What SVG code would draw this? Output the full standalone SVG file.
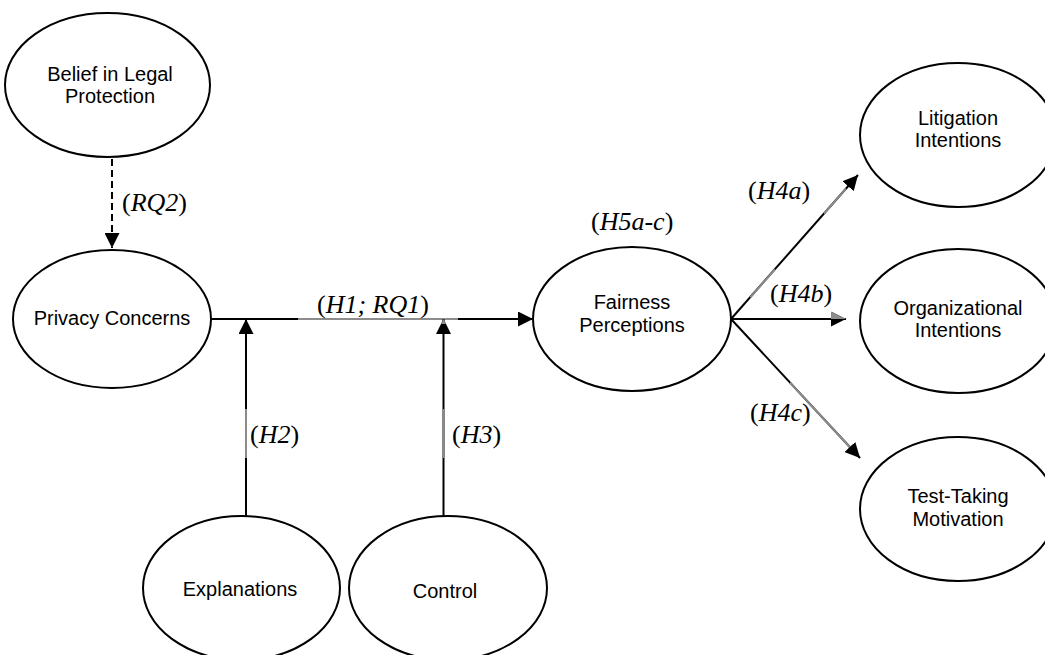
<svg xmlns="http://www.w3.org/2000/svg" width="1045" height="655" viewBox="0 0 1045 655">
  <style>
    .node ellipse { fill: #ffffff; stroke: #000000; stroke-width: 2; }
    .node text { font-family: "Liberation Sans", Arial, sans-serif; font-size: 20px; fill: #000000; text-anchor: middle; }
    .edge { stroke: #000000; stroke-width: 2; fill: none; }
    .dashed { stroke-dasharray: 7 4; }
    .grey { stroke: #8c8c8c; stroke-width: 2; fill: none; }
    .label { font-family: "Liberation Serif", "Times New Roman", serif; font-size: 26px; fill: #000000; }
    .label .it { font-style: italic; }
  </style>
  <defs>
    <marker id="arrow" viewBox="0 0 15 15" markerWidth="15" markerHeight="15" markerUnits="userSpaceOnUse" refX="15" refY="7.5" orient="auto">
      <path d="M0,0 L15,7.5 L0,15 Z" fill="#000000"/>
    </marker>
  </defs>

  <rect width="1045" height="655" fill="#ffffff"/>

  <!-- connectors -->
  <g id="connectors">
    <!-- belief -> privacy (dashed) -->
    <line class="edge dashed" x1="112" y1="159" x2="112" y2="248" marker-end="url(#arrow)"/>
    <!-- privacy -> fairness -->
    <line class="edge" x1="211" y1="319" x2="533" y2="319" marker-end="url(#arrow)"/>
    <line class="grey" x1="298" y1="319" x2="458" y2="319"/>
    <!-- explanations -> path -->
    <line class="edge" x1="246" y1="516" x2="246" y2="319" marker-end="url(#arrow)"/>
    <line class="grey" x1="246" y1="409" x2="246" y2="458"/>
    <!-- control -> path -->
    <line class="edge" x1="443.5" y1="516" x2="443.5" y2="319" marker-end="url(#arrow)"/>
    <line class="grey" x1="443.5" y1="409" x2="443.5" y2="458"/>
    <path d="M443.5,319 L441,324 L446,324 Z" fill="#8c8c8c"/>
    <!-- fairness -> litigation -->
    <line class="edge" x1="731" y1="319" x2="858" y2="175" marker-end="url(#arrow)"/>
    <line class="grey" x1="750.3" y1="297.4" x2="775" y2="269.3"/>
    <line class="grey" x1="824" y1="213.5" x2="846" y2="188.6"/>
    <!-- fairness -> organizational -->
    <line class="edge" x1="731" y1="319" x2="846" y2="319" marker-end="url(#arrow)"/>
    <path d="M831,311.5 L846,319 L831,319 Z" fill="#8c8c8c"/>
    <!-- fairness -> test-taking -->
    <line class="edge" x1="731" y1="319" x2="860" y2="458" marker-end="url(#arrow)"/>
    <line class="grey" x1="790" y1="382.6" x2="849.8" y2="447"/>

    <!-- path labels -->
    <text class="label" x="122" y="211">(<tspan class="it">RQ2</tspan>)</text>
    <text class="label" x="317" y="313">(<tspan class="it">H1; RQ1</tspan>)</text>
    <text class="label" x="250" y="443">(<tspan class="it">H2</tspan>)</text>
    <text class="label" x="452" y="443">(<tspan class="it">H3</tspan>)</text>
    <text class="label" x="591" y="230">(<tspan class="it">H5a-c</tspan>)</text>
    <text class="label" x="748" y="199">(<tspan class="it">H4a</tspan>)</text>
    <text class="label" x="770" y="302">(<tspan class="it">H4b</tspan>)</text>
    <text class="label" x="750" y="421">(<tspan class="it">H4c</tspan>)</text>
  </g>

  <!-- nodes -->
  <g id="belief" class="node">
    <ellipse cx="107.5" cy="85" rx="102.5" ry="72"/>
    <text x="110" y="81">Belief in Legal</text>
    <text x="110" y="103">Protection</text>
  </g>
  <g id="privacy" class="node">
    <ellipse cx="112" cy="319" rx="99" ry="69"/>
    <text x="112" y="325">Privacy Concerns</text>
  </g>
  <g id="fairness" class="node">
    <ellipse cx="632" cy="319" rx="99" ry="72"/>
    <text x="632" y="309">Fairness</text>
    <text x="632" y="332">Perceptions</text>
  </g>
  <g id="litigation" class="node">
    <ellipse cx="958" cy="135" rx="98" ry="72"/>
    <text x="958" y="125">Litigation</text>
    <text x="958" y="147">Intentions</text>
  </g>
  <g id="organizational" class="node">
    <ellipse cx="958" cy="321" rx="98" ry="72"/>
    <text x="958" y="315">Organizational</text>
    <text x="958" y="337">Intentions</text>
  </g>
  <g id="testtaking" class="node">
    <ellipse cx="958" cy="509" rx="98" ry="72"/>
    <text x="958" y="503">Test-Taking</text>
    <text x="958" y="526">Motivation</text>
  </g>
  <g id="explanations" class="node">
    <ellipse cx="241.5" cy="588" rx="98.5" ry="72"/>
    <text x="240" y="596">Explanations</text>
  </g>
  <g id="control" class="node">
    <ellipse cx="448" cy="588" rx="99" ry="72"/>
    <text x="445" y="598">Control</text>
  </g>
</svg>
